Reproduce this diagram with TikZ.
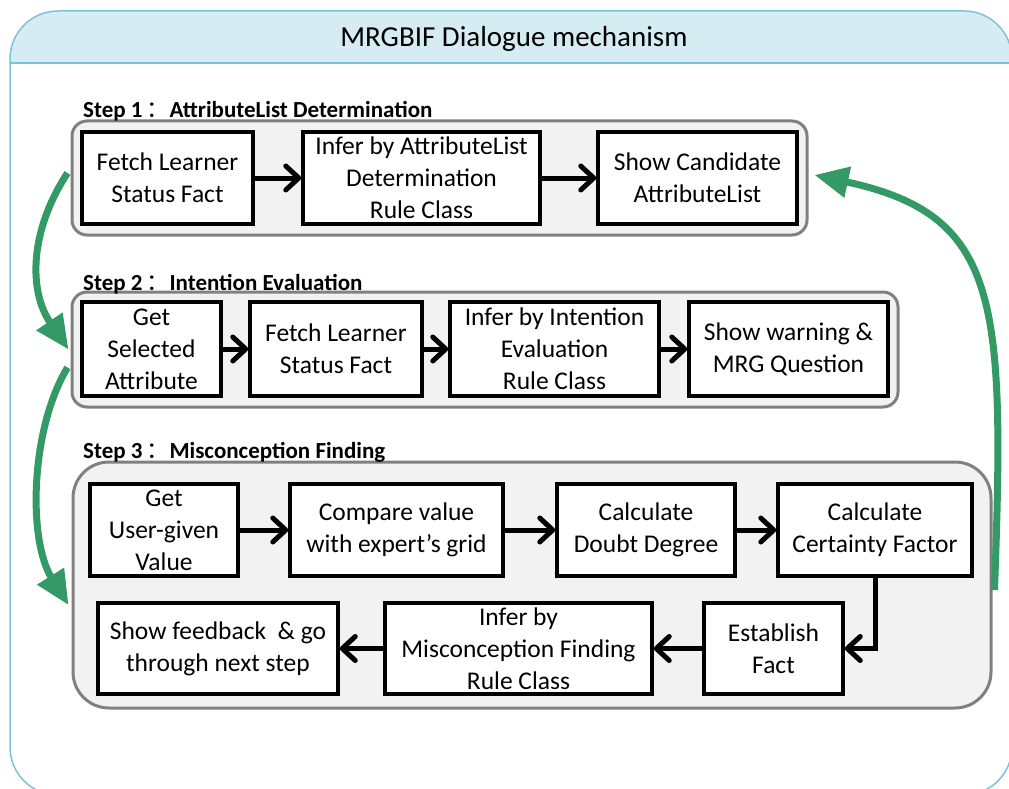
\documentclass[tikz,border=0pt]{standalone}
\usepackage{fontspec}
\setmainfont{Carlito}
\newfontfamily\cjkfont{Noto Sans CJK SC}
\usetikzlibrary{arrows.meta,calc}

\definecolor{framecol}{RGB}{124,195,216}
\definecolor{titlefill}{RGB}{214,236,243}
\definecolor{groupfill}{RGB}{242,242,242}
\definecolor{groupline}{RGB}{128,128,128}
\definecolor{flowgreen}{RGB}{52,154,101}

\tikzset{
  stepbox/.style={draw=black, line width=3.5pt, fill=white, align=center,
    inner sep=0pt, font=\fontsize{25.5}{32}\selectfont},
  groupbox/.style={draw=groupline, line width=3pt, fill=groupfill, inner sep=0pt},
  steplabel/.style={anchor=base west, inner sep=0pt,
    font=\bfseries\fontsize{23}{27}\selectfont},
  flow/.style={draw=black, line width=5pt,
    -{Straight Barb[length=13pt,width=24pt,round]}},
  loopback/.style={draw=flowgreen, line width=7pt,
    -{Triangle[length=34pt,width=30pt]}},
}
\newcommand{\stepsep}{\hspace{4pt}{\mdseries\cjkfont ：}}

\begin{document}
\begin{tikzpicture}[x=1pt,y=-1pt]
\useasboundingbox (0,0) rectangle (1009,789);
\clip (0,0) rectangle (1009,789);

% outer panel with its title bar
\begin{scope}
  \clip (0,0) rectangle (1009,63);
  \fill[titlefill, rounded corners=48pt] (10,11) rectangle (1012,795);
\end{scope}
\draw[framecol, line width=1.5pt, rounded corners=48pt] (10,11) rectangle (1012,795);
\draw[framecol, line width=1.5pt] (10,63) -- (1012,63);
\node[anchor=base, inner sep=0pt, font=\fontsize{29}{34}\selectfont] (title) at (514,47) {MRGBIF Dialogue mechanism};

% step groups
\node[groupbox, rounded corners=15pt, minimum width=735pt, minimum height=114pt] (g1) at (439.5,178) {};
\node[groupbox, rounded corners=15pt, minimum width=826pt, minimum height=115pt] (g2) at (485,349.5) {};
\node[groupbox, rounded corners=36pt, minimum width=918pt, minimum height=246pt] (g3) at (532,585) {};

\node[steplabel] (l1) at (83,118) {Step 1\stepsep AttributeList Determination};
\node[steplabel] (l2) at (83,290) {Step 2\stepsep Intention Evaluation};
\node[steplabel] (l3) at (83,458) {Step 3\stepsep Misconception Finding};

% step 1
\node[stepbox, minimum width=171pt, minimum height=92pt] (s1a) at (167.5,178) {Fetch Learner\\Status Fact};
\node[stepbox, minimum width=237pt, minimum height=92pt] (s1b) at (421.5,178) {Infer by AttributeList\\Determination\\Rule Class};
\node[stepbox, minimum width=199pt, minimum height=92pt] (s1c) at (697.5,178) {Show Candidate\\AttributeList};

% step 2
\node[stepbox, minimum width=139pt, minimum height=94pt] (s2a) at (151.5,349) {Get\\Selected\\Attribute};
\node[stepbox, minimum width=172pt, minimum height=94pt] (s2b) at (336,349) {Fetch Learner\\Status Fact};
\node[stepbox, minimum width=209pt, minimum height=94pt] (s2c) at (554.5,349) {Infer by Intention\\Evaluation\\Rule Class};
\node[stepbox, minimum width=199pt, minimum height=94pt] (s2d) at (788.5,349) {Show warning \&\\MRG Question};

% step 3
\node[stepbox, minimum width=148pt, minimum height=92pt] (s3a) at (164,530) {Get\\User-given\\Value};
\node[stepbox, minimum width=213pt, minimum height=92pt] (s3b) at (396.5,530) {Compare value\\with expert’s grid};
\node[stepbox, minimum width=178pt, minimum height=92pt] (s3c) at (646,530) {Calculate\\Doubt Degree};
\node[stepbox, minimum width=194pt, minimum height=92pt] (s3d) at (875,530) {Calculate\\Certainty Factor};
\node[stepbox, minimum width=139pt, minimum height=91pt] (s3e) at (773.5,648.5) {Establish\\Fact};
\node[stepbox, minimum width=267pt, minimum height=91pt] (s3f) at (518.5,648.5) {Infer by\\Misconception Finding\\Rule Class};
\node[stepbox, minimum width=240pt, minimum height=91pt] (s3g) at (218,648.5) {Show feedback\ \ \& go\\through next step};

% flow inside the steps
\draw[flow] (s1a) -- (s1b);
\draw[flow] (s1b) -- (s1c);
\draw[flow] (s2a) -- (s2b);
\draw[flow] (s2b) -- (s2c);
\draw[flow] (s2c) -- (s2d);
\draw[flow] (s3a) -- (s3b);
\draw[flow] (s3b) -- (s3c);
\draw[flow] (s3c) -- (s3d);
\draw[flow] (s3d.south) |- (s3e.east);
\draw[flow] (s3e) -- (s3f);
\draw[flow] (s3f) -- (s3g);

% transitions between the steps
\draw[loopback] ([xshift=-3pt,yshift=5pt]g1.west) .. controls (30,230) and (28,290) .. ([xshift=-2pt]g2.west);
\draw[loopback] ([xshift=-3pt,yshift=-18pt]g2.west) .. controls (30,430) and (28,540) .. ([xshift=-3pt,yshift=-20pt]g3.west);
\draw[loopback] ([xshift=2pt,yshift=-5pt]g3.east) .. controls (1005,300) and (1000,215) .. ([xshift=6pt,yshift=3pt]g1.east);
\end{tikzpicture}
\end{document}
